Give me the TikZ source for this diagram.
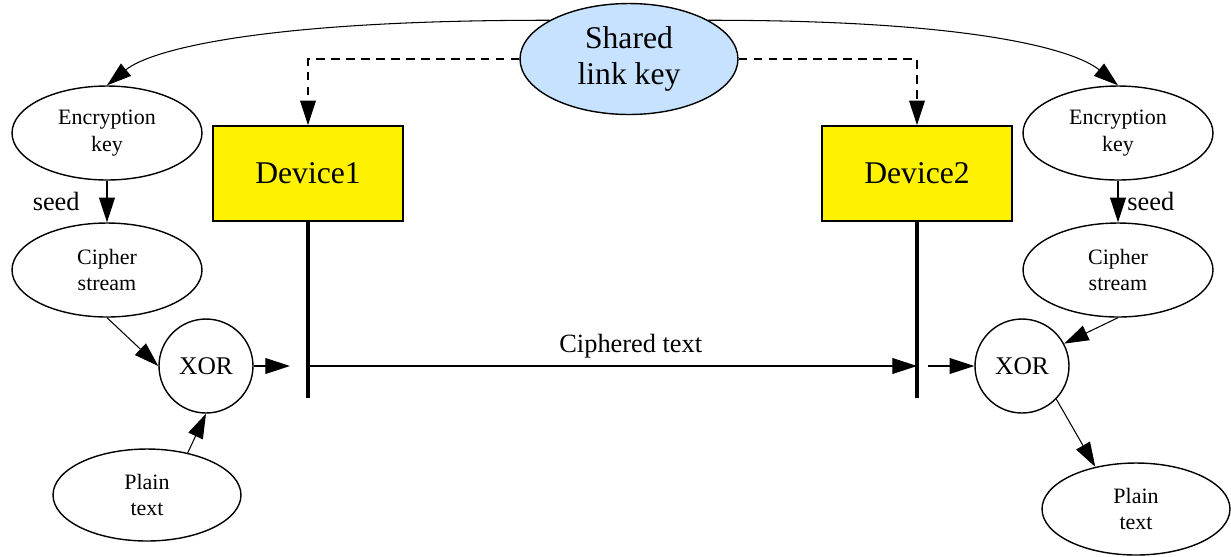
\documentclass[tikz,border=0pt]{standalone}
\usepackage{fontspec}
\setmainfont{Liberation Serif}
\usetikzlibrary{shapes.geometric,arrows.meta}
\definecolor{linkblue}{RGB}{198,226,255}

\begin{document}
\begin{tikzpicture}[x=0.02cm,y=-0.02cm,
    >={Triangle[length=14pt,width=9pt]},
    small/.style={ellipse,draw,line width=0.8pt,minimum width=3.8cm,minimum height=1.88cm,
        inner sep=0pt,align=center,font=\fontsize{12.5}{15.3}\selectfont},
    device/.style={rectangle,draw,line width=1pt,fill=yellow,minimum width=3.8cm,
        minimum height=1.9cm,font=\fontsize{18}{22}\selectfont},
    xor/.style={circle,draw,line width=0.8pt,minimum size=1.88cm,inner sep=0pt,
        font=\fontsize{14.5}{17}\selectfont},
    lbl/.style={font=\fontsize{15}{18}\selectfont},
    link/.style={->,line width=0.6pt},
    bar/.style={line width=2.3pt}]
    \useasboundingbox (0,0) rectangle (1231,556);

    \node[ellipse,draw,line width=0.8pt,fill=linkblue,minimum width=4.36cm,minimum height=2.22cm,
        inner sep=0pt,align=center,font=\fontsize{18}{20.5}\selectfont] (shared) at (629,59) {Shared\\link key};
    \node[device] (dev1) at (308,173.5) {Device1};
    \node[device] (dev2) at (917,173.5) {Device2};

    \foreach \s/\x/\anch/\d in {A/107/east/-0.42cm, B/1118/west/0.06cm}
    {\node[small] (enc\s) at (\x,133) {Encryption\\key};
    \node[small] (ciph\s) at (\x,270) {Cipher\\stream};
    \draw[link] (enc\s) -- node[midway,lbl,anchor=\anch,xshift=\d]{seed} (ciph\s);}

    \node[xor] (xorA) at (206,366) {XOR};
    \node[xor] (xorB) at (1022,366) {XOR};
    \node[small,minimum width=3.76cm,minimum height=1.84cm] (plainA) at (147,495) {Plain\\text};
    \node[small,minimum width=3.76cm,minimum height=1.84cm] (plainB) at (1136,509) {Plain\\text};

    \coordinate (endA) at (308,398);
    \coordinate (endB) at (917,398);
    \coordinate (outA) at (308,366);
    \coordinate (inB) at (917,366);
    \coordinate (gapA) at (290,366);
    \coordinate (gapB) at (928,366);

    \draw[link] (shared.154) .. controls (260,20) and (150,50) .. (encA.north);
    \draw[link] (shared.26) .. controls (975,20) and (1075,50) .. (encB.north);
    \draw[link,dash pattern=on 5pt off 3.5pt] (shared.west) -| (dev1.north);
    \draw[link,dash pattern=on 5pt off 3.5pt] (shared.east) -| (dev2.north);
    \draw[bar] (dev1.south) -- (endA);
    \draw[bar] (dev2.south) -- (endB);

    \draw[link] (ciphA.south) -- (xorA.west);
    \draw[link] (plainA.46) -- (xorA.south);
    \draw[link] (xorA) -- (gapA);
    \draw[link] (outA) -- node[pos=0.53,above=1pt,lbl]{Ciphered text} (inB);
    \draw[link] (gapB) -- (xorB);
    \draw[link] (ciphB.south) -- (xorB.28);
    \draw[link] (xorB.-44) -- (plainB.134);

\end{tikzpicture}
\end{document}
